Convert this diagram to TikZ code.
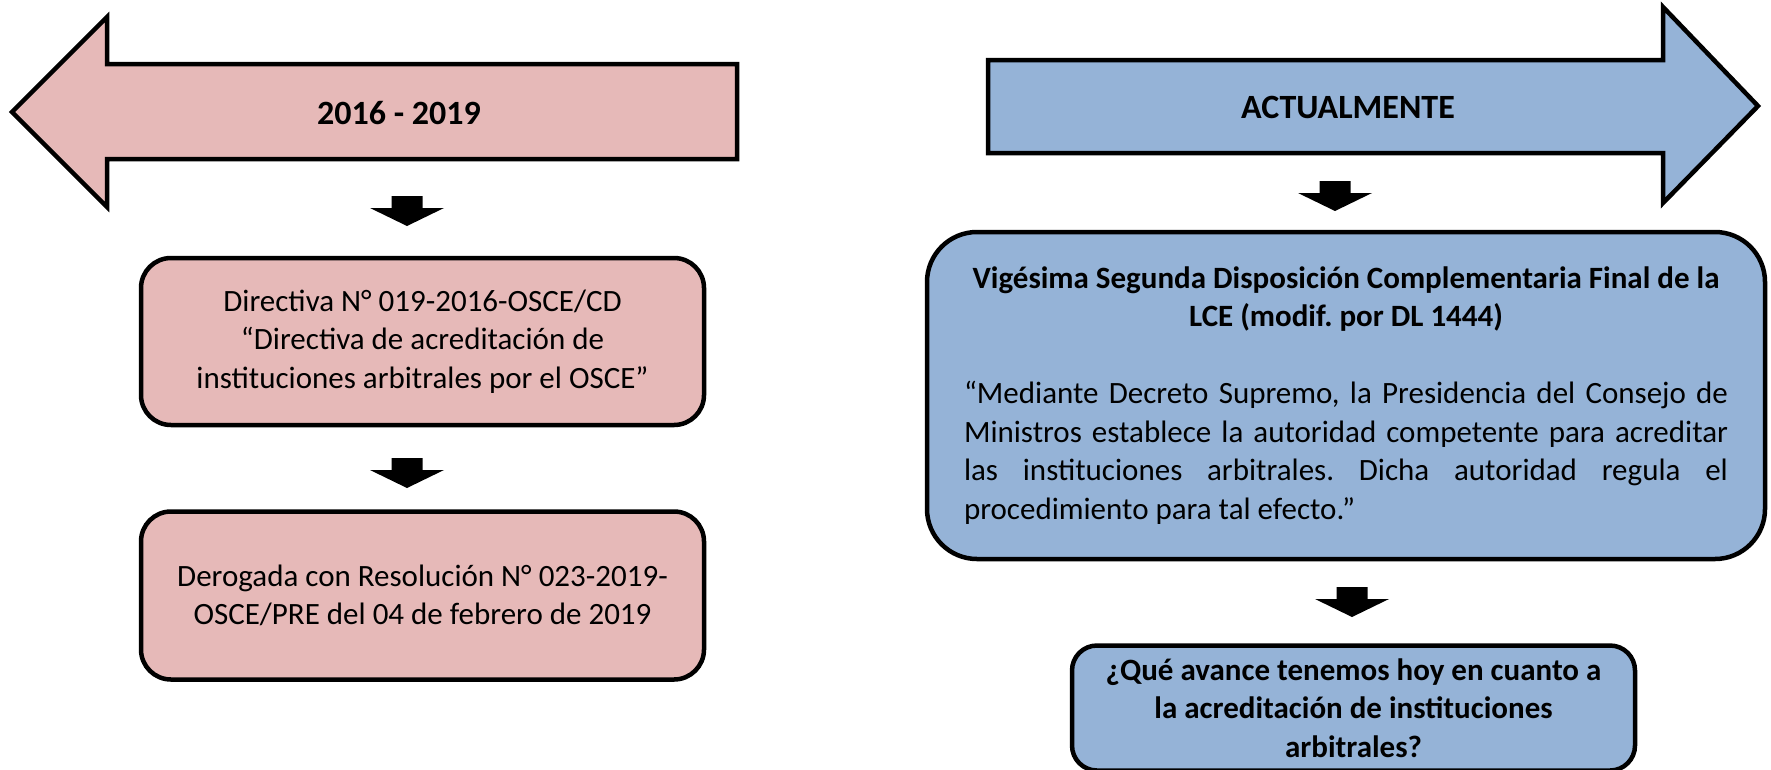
\documentclass[tikz,border=0pt]{standalone}
\usepackage{fontspec}
\setmainfont{Carlito}
\usetikzlibrary{positioning}
\definecolor{rosa}{HTML}{E6B9B8}
\definecolor{celeste}{HTML}{95B3D7}
\newcommand{\flecha}[1]{\fill (#1) ++(-15.5,0) -- ++(31,0) -- ++(0,12) -- ++(21.5,0) -- ++(-37,18) -- ++(-37,-18) -- ++(21.5,0) -- cycle;}
\frenchspacing
\begin{document}
\begin{tikzpicture}[x=1pt, y=-1pt, line join=miter]
        \tikzstyle{every node} = [align=center, font=\fontsize{31}{38.5}\selectfont]
        \tikzstyle{caja} = [draw, line width=4.5pt, rounded corners=30pt, inner sep=0pt]
        \tikzstyle{titulo} = [font=\fontsize{34}{40}\selectfont\bfseries]
        \useasboundingbox (0,0) rectangle (1771,769);

        \draw[line width=4.5pt, fill=rosa] (12,112) -- (107,17) -- (107,64) -- (737,64) -- (737,159) -- (107,159) -- (107,207) -- cycle;
        \draw[line width=4.5pt, fill=celeste] (988,60) -- (1663,60) -- (1663,7) -- (1758,106) -- (1663,203) -- (1663,153) -- (988,153) -- cycle;
        \node[titulo](antes) at (399,113){2016 - 2019};
        \node[titulo](ahora) at (1348,107){ACTUALMENTE};

        \node[caja, fill=rosa, minimum width=563pt, minimum height=167pt](directiva) at (422.5,341.5){Directiva N° 019-2016-OSCE/CD\\“Directiva de acreditación de\\instituciones arbitrales por el OSCE”};
        \node[caja, fill=rosa, minimum width=563pt, minimum height=168pt, below=82pt of directiva](derogada){Derogada con Resolución N° 023-2019-\\OSCE/PRE del 04 de febrero de 2019};

        \node[caja, fill=celeste, rounded corners=50pt, minimum width=838pt, minimum height=327pt](disposicion) at (1346,395.5){%
            \begin{minipage}{764pt}\fontsize{31}{38.5}\selectfont\parindent=0pt\hyphenpenalty=10000
            {\centering\bfseries Vigésima Segunda Disposición Complementaria Final de la\\LCE (modif. por DL 1444)\par}
            \vspace{38.5pt}
            “Mediante Decreto Supremo, la Presidencia del Consejo de\linebreak
            Ministros establece la autoridad competente para acreditar\linebreak
            las instituciones arbitrales. Dicha autoridad regula el\linebreak
            procedimiento para tal efecto.”
            \end{minipage}};
        \node[caja, fill=celeste, rounded corners=25pt, minimum width=563pt, minimum height=125pt, below=82pt of disposicion, xshift=7.5pt, font=\fontsize{31}{38.5}\selectfont\bfseries](pregunta){¿Qué avance tenemos hoy en cuanto a\\la acreditación de instituciones\\arbitrales?};

        \coordinate (f1) at (407,196);
        \coordinate (f2) at (407,458);
        \coordinate (f3) at (1335,181);
        \coordinate (f4) at (1352,587);
        \flecha{f1}
        \flecha{f2}
        \flecha{f3}
        \flecha{f4}
    \end{tikzpicture}
\end{document}
